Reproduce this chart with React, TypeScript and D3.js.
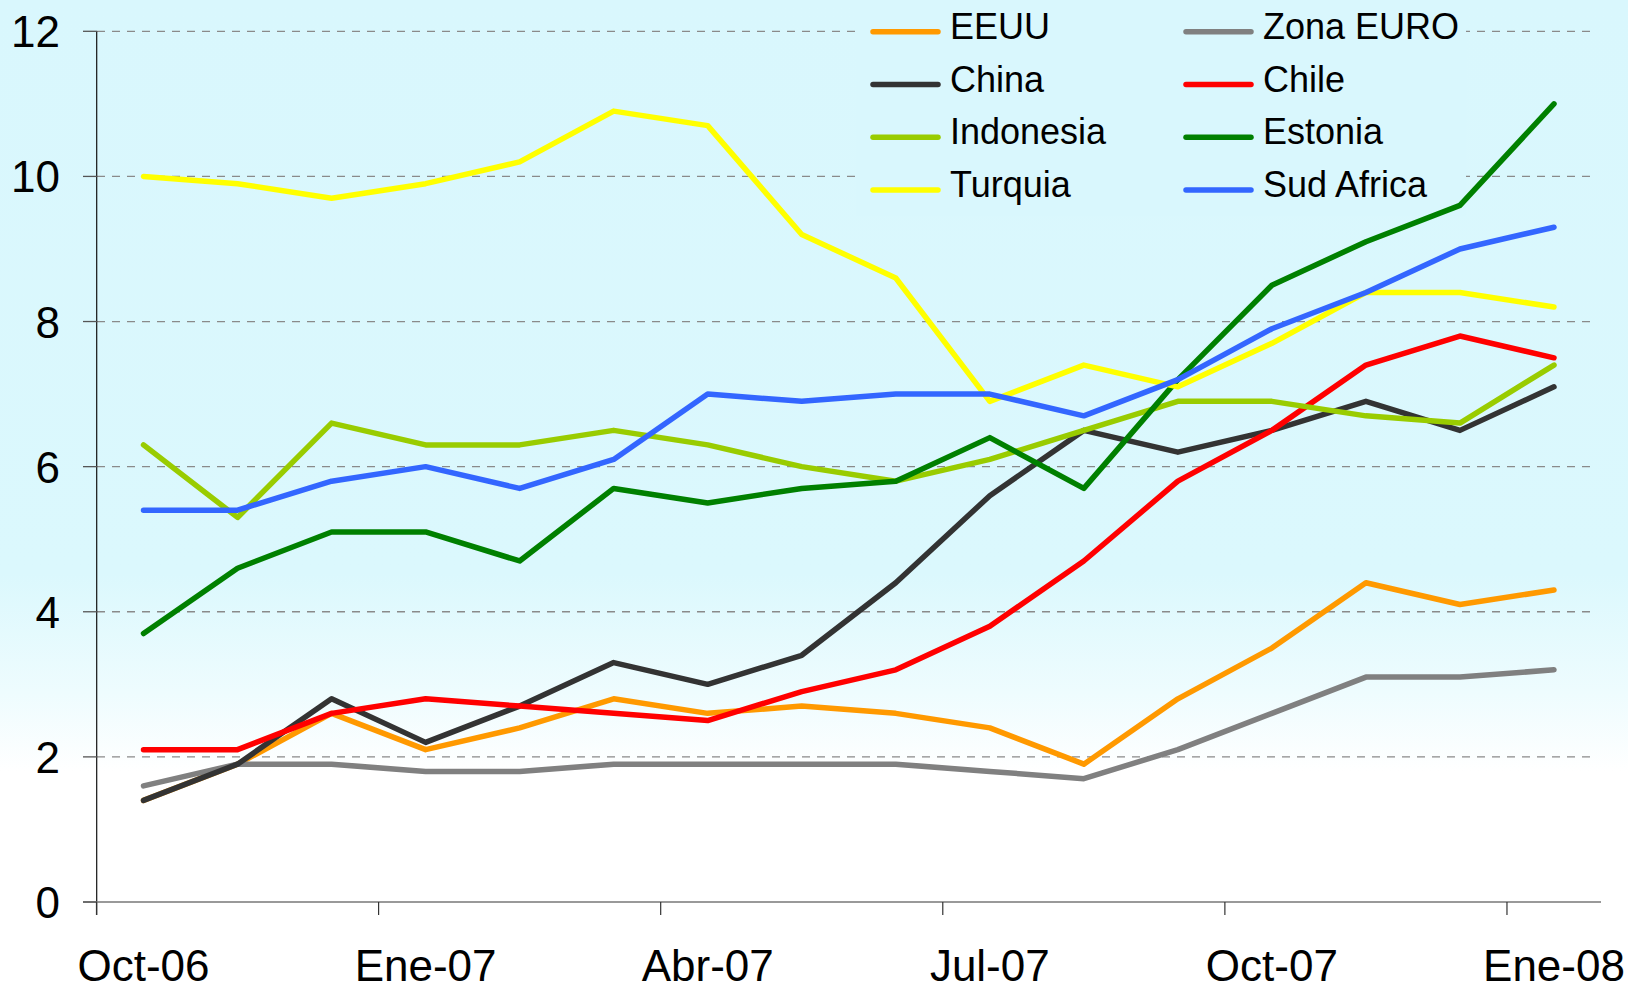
import React, { useEffect, useRef } from "react";
import * as d3 from "d3";

const months = [
  "Oct-06", "Nov-06", "Dic-06", "Ene-07", "Feb-07", "Mar-07", "Abr-07", "May-07",
  "Jun-07", "Jul-07", "Ago-07", "Sep-07", "Oct-07", "Nov-07", "Dic-07", "Ene-08"
];
const tickMonths = ["Oct-06", "Ene-07", "Abr-07", "Jul-07", "Oct-07", "Ene-08"];
const yTicks = [0, 2, 4, 6, 8, 10, 12];

const eeuu = [1.4, 1.9, 2.6, 2.1, 2.4, 2.8, 2.6, 2.7, 2.6, 2.4, 1.9, 2.8, 3.5, 4.4, 4.1, 4.3];
const zonaEuro = [1.6, 1.9, 1.9, 1.8, 1.8, 1.9, 1.9, 1.9, 1.9, 1.8, 1.7, 2.1, 2.6, 3.1, 3.1, 3.2];
const china = [1.4, 1.9, 2.8, 2.2, 2.7, 3.3, 3.0, 3.4, 4.4, 5.6, 6.5, 6.2, 6.5, 6.9, 6.5, 7.1];
const chile = [2.1, 2.1, 2.6, 2.8, 2.7, 2.6, 2.5, 2.9, 3.2, 3.8, 4.7, 5.8, 6.5, 7.4, 7.8, 7.5];
const indonesia = [6.3, 5.3, 6.6, 6.3, 6.3, 6.5, 6.3, 6.0, 5.8, 6.1, 6.5, 6.9, 6.9, 6.7, 6.6, 7.4];
const estonia = [3.7, 4.6, 5.1, 5.1, 4.7, 5.7, 5.5, 5.7, 5.8, 6.4, 5.7, 7.2, 8.5, 9.1, 9.6, 11.0];
const turquia = [10.0, 9.9, 9.7, 9.9, 10.2, 10.9, 10.7, 9.2, 8.6, 6.9, 7.4, 7.1, 7.7, 8.4, 8.4, 8.2];
const sudAfrica = [5.4, 5.4, 5.8, 6.0, 5.7, 6.1, 7.0, 6.9, 7.0, 7.0, 6.7, 7.2, 7.9, 8.4, 9.0, 9.3];

const seriesNames = ["EEUU", "Zona EURO", "China", "Chile", "Indonesia", "Estonia", "Turquia", "Sud Africa"];
const seriesValues = [eeuu, zonaEuro, china, chile, indonesia, estonia, turquia, sudAfrica];
const seriesColors = ["#ff9900", "#808080", "#333333", "#ff0000", "#99cc00", "#008000", "#ffff00", "#3366ff"];

const W = 1628;
const H = 989;

export default function App() {
  const ref = useRef<SVGSVGElement>(null);

  useEffect(() => {
    const svg = d3.select(ref.current);
    svg.selectAll("*").remove();
    const font = "'Liberation Sans', Arial, sans-serif";

    // background
    const defs = svg.append("defs");
    const grad = defs
      .append("linearGradient")
      .attr("id", "bg")
      .attr("gradientUnits", "userSpaceOnUse")
      .attr("x1", 0).attr("y1", 0).attr("x2", 0).attr("y2", H);
    grad.append("stop").attr("offset", 0).attr("stop-color", "#d9f7fd");
    grad.append("stop").attr("offset", 0.58).attr("stop-color", "#dbf8fd");
    grad.append("stop").attr("offset", 0.7).attr("stop-color", "#eefcfe");
    grad.append("stop").attr("offset", 0.78).attr("stop-color", "#ffffff");
    grad.append("stop").attr("offset", 1).attr("stop-color", "#ffffff");
    svg.append("rect").attr("width", W).attr("height", H).attr("fill", "url(#bg)");

    const x = d3.scaleBand<number>().domain(d3.range(months.length)).range([96.5, 1601]);
    const y = d3.scaleLinear().domain([0, 12]).range([902, 31.3]);
    const cx = (i: number) => (x(i) as number) + x.bandwidth() / 2;

    // gridlines
    svg
      .append("g")
      .selectAll("line")
      .data(yTicks.filter(d => d > 0))
      .enter()
      .append("line")
      .attr("x1", 97)
      .attr("x2", 1595)
      .attr("y1", d => y(d))
      .attr("y2", d => y(d))
      .attr("stroke", "#8a8a8a")
      .attr("stroke-width", 1.3)
      .attr("stroke-dasharray", "8,7");

    // axes
    const ax = svg.append("g");
    ax.append("line")
      .attr("x1", 96.7).attr("x2", 96.7)
      .attr("y1", y(12)).attr("y2", 915)
      .attr("stroke", "#111").attr("stroke-width", 1.2);
    ax.append("line")
      .attr("x1", 83).attr("x2", 1601)
      .attr("y1", y(0)).attr("y2", y(0))
      .attr("stroke", "#777").attr("stroke-width", 1.5);
    ax.selectAll(".yt")
      .data(yTicks)
      .enter()
      .append("line")
      .attr("x1", 83).attr("x2", 97)
      .attr("y1", d => y(d)).attr("y2", d => y(d))
      .attr("stroke", "#555").attr("stroke-width", 1.3);
    ax.selectAll(".yl")
      .data(yTicks)
      .enter()
      .append("text")
      .attr("x", 60)
      .attr("y", d => y(d) + 16)
      .attr("text-anchor", "end")
      .attr("font-family", font)
      .attr("font-size", 44)
      .attr("fill", "#000")
      .text(d => d);
    const tickIdx = tickMonths.map(m => months.indexOf(m));
    ax.selectAll(".xt")
      .data(tickIdx)
      .enter()
      .append("line")
      .attr("x1", d => x(d) as number).attr("x2", d => x(d) as number)
      .attr("y1", y(0)).attr("y2", 915)
      .attr("stroke", "#333").attr("stroke-width", 1.2);
    ax.selectAll(".xl")
      .data(tickIdx)
      .enter()
      .append("text")
      .attr("x", d => cx(d))
      .attr("y", 981)
      .attr("text-anchor", "middle")
      .attr("font-family", font)
      .attr("font-size", 44)
      .attr("fill", "#000")
      .text(d => months[d]);

    // legend background
    svg.append("rect")
      .attr("x", 856).attr("y", 4).attr("width", 610).attr("height", 212)
      .attr("fill", "#d9f7fd");

    // series
    const line = d3
      .line<number>()
      .x((d, i) => cx(i))
      .y(d => y(d));
    svg
      .append("g")
      .selectAll("path")
      .data(seriesValues)
      .enter()
      .append("path")
      .attr("d", d => line(d))
      .attr("fill", "none")
      .attr("stroke", (d, i) => seriesColors[i])
      .attr("stroke-width", 5.5)
      .attr("stroke-linejoin", "round")
      .attr("stroke-linecap", "round");

    // legend
    const lg = svg
      .append("g")
      .selectAll("g")
      .data(seriesNames)
      .enter()
      .append("g")
      .attr("transform", (d, i) => {
        const col = i % 2;
        const row = Math.floor(i / 2);
        return `translate(${col === 0 ? 873 : 1186},${31.7 + row * 52.8})`;
      });
    lg.append("line")
      .attr("x1", 0).attr("x2", 65)
      .attr("stroke", (d, i) => seriesColors[i])
      .attr("stroke-width", 5.5)
      .attr("stroke-linecap", "round");
    lg.append("text")
      .attr("x", 77)
      .attr("y", 7)
      .attr("font-family", font)
      .attr("font-size", 36)
      .attr("fill", "#000")
      .text(d => d);
  }, []);

  return (
    <svg
      ref={ref}
      width={W}
      height={H}
      style={{ position: "fixed", left: 0, top: 0, display: "block" }}
    />
  );
}
